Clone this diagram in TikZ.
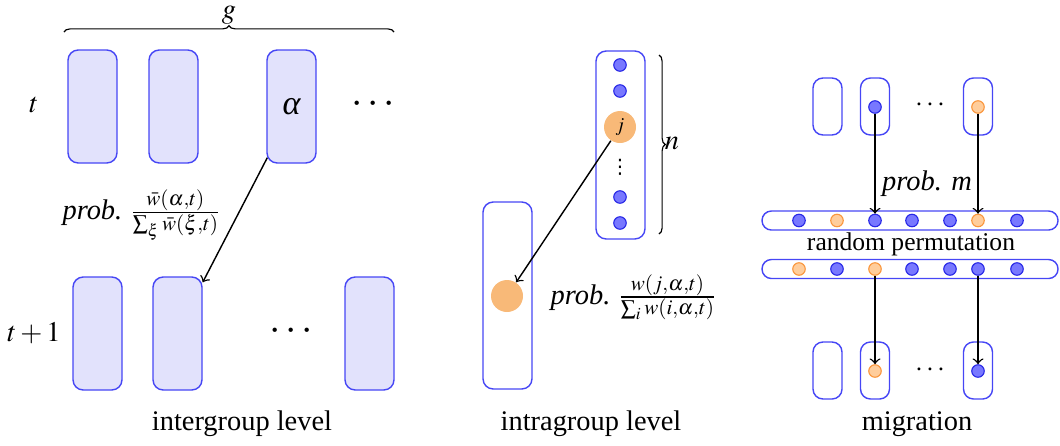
\documentclass[tikz,border=0pt]{standalone}
\usepackage{mathptmx}
\usepackage{fontspec}
\setmainfont{Liberation Serif}
\newfontfamily\djv{DejaVu Sans}
\usetikzlibrary{decorations.pathreplacing}
\definecolor{boxfill}{RGB}{226,226,252}
\definecolor{boxdraw}{RGB}{70,70,245}
\definecolor{bdfill}{RGB}{120,120,255}
\definecolor{bddraw}{RGB}{40,40,230}
\definecolor{orbig}{RGB}{248,185,120}
\definecolor{orfill}{RGB}{255,205,155}
\definecolor{ordraw}{RGB}{250,150,60}
\def\pxu{0.352pt}
\tikzset{
  gbox/.style={draw=boxdraw, fill=boxfill, line width=0.5pt, rounded corners=3.6pt, inner sep=0pt,
     minimum width=49*\pxu, minimum height=113*\pxu},
  obox/.style={draw=boxdraw, line width=0.5pt, rounded corners=3.6pt, inner sep=0pt},
  sbox/.style={draw=boxdraw, line width=0.5pt, rounded corners=3.5pt, inner sep=0pt,
     minimum width=29*\pxu, minimum height=57*\pxu},
  bar/.style={draw=boxdraw, line width=0.5pt, rounded corners=3.3pt, inner sep=0pt,
     minimum width=296*\pxu, minimum height=19*\pxu},
  bdot/.style={circle, draw=bddraw, fill=bdfill, line width=0.4pt, inner sep=0pt, minimum size=12.5*\pxu},
  odot/.style={circle, draw=ordraw, fill=orfill, line width=0.4pt, inner sep=0pt, minimum size=12.5*\pxu},
  obig/.style={circle, fill=orbig, inner sep=0pt, minimum size=32*\pxu},
  arr/.style={->, line width=0.5pt, black},
  brc/.style={decorate, decoration={brace, amplitude=2.2pt}, line width=0.4pt},
  lbl/.style={inner sep=0pt}
}
\begin{document}
\begin{tikzpicture}[x=0.352pt, y=-0.352pt]
\useasboundingbox (0,0) rectangle (1060,445);

% ---------------- intergroup level ----------------
\draw[brc] (64,32) -- (394,32);
\node[lbl] (g) at (229,15) {$g$};
\node[lbl] (tl) at (34,105) {$t$};
\node[gbox] (a1) at (92.5,106.5) {};
\node[gbox] (a2) at (173.5,106.5) {};
\node[gbox] (a3) at (291.5,106.5) {\large\itshape α};
\node[lbl, font=\Large] (adots) at (373,105) {$\cdots$};
\node[lbl] (t1) at (34,333) {$t+1$};
\node[gbox] (b1) at (97.5,333.5) {};
\node[gbox] (b2) at (177.5,333.5) {};
\node[lbl, font=\Large] (bdots) at (291,332) {$\cdots$};
\node[gbox] (b3) at (369.5,333.5) {};
\draw[arr] ([shift={(1,-6)}]a3.south west) -- ([shift={(0,6)}]b2.north east);
\node[lbl] (p1) at (142,215) {\textit{prob.}\ $\frac{\bar{w}(\alpha,t)}{\sum_\xi \bar{w}(\xi,t)}$};
\node[lbl] (c1) at (242,424) {intergroup level};

% ---------------- intragroup level ----------------
\node[obox, minimum width=49*\pxu, minimum height=188*\pxu] (m1) at (620.5,145) {};
\node[bdot] (d1) at (620,65) {};
\node[bdot] (d2) at (620,91) {};
\node[obig] (j) at (620,127) {\scriptsize$j$};
\node[lbl] (vd) at (620,167) {\djv\scriptsize ⋮};
\node[bdot] (d4) at (620,197) {};
\node[bdot] (d5) at (620,223) {};
\draw[brc] (659,55) -- (659,234);
\node[lbl] (n) at (672,143) {$n$};
\node[obox, minimum width=49*\pxu, minimum height=187*\pxu] (m2) at (507.5,295.5) {};
\node[obig] (o2) at (507,296) {};
\draw[arr] (j) -- (o2);
\node[lbl] (p2) at (634,297) {\textit{prob.}\ $\frac{w(j,\alpha,t)}{\sum_i w(i,\alpha,t)}$};
\node[lbl] (c2) at (591,424) {intragroup level};

% ---------------- migration ----------------
\node[sbox] (r1) at (827.5,106.5) {};
\node[sbox] (r2) at (875,106.5) {};
\node[sbox] (r3) at (978,106.5) {};
\node[lbl] (rdots) at (930,105) {$\cdots$};
\node[bdot] (s1) at (875,107) {};
\node[odot] (s2) at (978,107) {};

\node[bar] (bar1) at (910,220.5) {};
\node[bdot] (u1) at (799,220.5) {};
\node[odot] (u2) at (837,220.5) {};
\node[bdot] (u3) at (875,220.5) {};
\node[bdot] (u4) at (912,220.5) {};
\node[bdot] (u5) at (950,220.5) {};
\node[odot] (u6) at (978,220.5) {};
\node[bdot] (u7) at (1017,220.5) {};

\node[lbl] (pm) at (927,184) {\textit{prob. m}};
\node[lbl, font=\small] (rp) at (911,244) {random permutation};

\node[bar] (bar2) at (910,269) {};
\node[odot] (v1) at (799,269) {};
\node[bdot] (v2) at (837,269) {};
\node[odot] (v3) at (875,269) {};
\node[bdot] (v4) at (912,269) {};
\node[bdot] (v5) at (950,269) {};
\node[bdot] (v6) at (978,269) {};
\node[bdot] (v7) at (1017,269) {};

\node[sbox] (q1) at (827.5,370.5) {};
\node[sbox] (q2) at (875,370.5) {};
\node[sbox] (q3) at (978,370.5) {};
\node[lbl] (qdots) at (930,370) {$\cdots$};
\node[odot] (w1) at (875,371) {};
\node[bdot] (w2) at (978,371) {};

\draw[arr] (s1) -- (u3);
\draw[arr] (s2) -- (u6);
\draw[arr] (v3) -- (w1);
\draw[arr] (v6) -- (w2);
\node[lbl] (c3) at (917,424) {migration};
\end{tikzpicture}
\end{document}
